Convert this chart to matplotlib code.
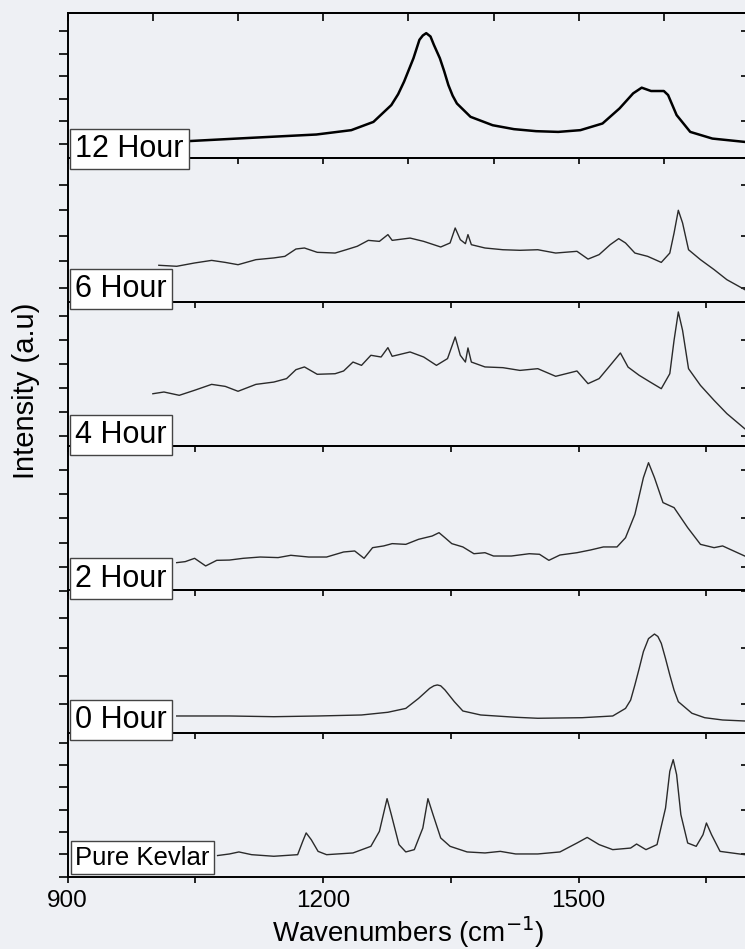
"""Stacked Raman spectra of Kevlar after different exposure times."""
import numpy as np
import matplotlib.pyplot as plt
from matplotlib.ticker import MultipleLocator

plt.rcParams["font.family"] = ["Liberation Sans", "DejaVu Sans"]

# ---- spectra: wavenumber [cm-1], intensity scaled to each panel (0..1)
wn_12h = [1037, 1115, 1192, 1233, 1259, 1280, 1288, 1295, 1306, 1313, 1317, 1321, 1326,
          1330, 1337, 1342, 1347, 1352, 1357, 1365, 1373, 1399, 1424, 1450, 1476, 1502,
          1528, 1548, 1564, 1574, 1585, 1600, 1605, 1615, 1631, 1657, 1695]
int_12h = [0.115, 0.139, 0.162, 0.192, 0.249, 0.365, 0.44, 0.527, 0.688, 0.815, 0.845,
           0.861, 0.838, 0.78, 0.688, 0.60, 0.503, 0.43, 0.376, 0.33, 0.284, 0.226, 0.199,
           0.185, 0.180, 0.192, 0.238, 0.342, 0.446, 0.485, 0.462, 0.462, 0.434, 0.296,
           0.180, 0.134, 0.111]

wn_6h = [1007, 1028, 1049, 1069, 1085, 1100, 1121, 1142, 1155, 1168, 1178, 1193, 1214,
         1227, 1240, 1253, 1266, 1276, 1281, 1302, 1318, 1338, 1349, 1355, 1361, 1367,
         1370, 1374, 1390, 1411, 1431, 1452, 1473, 1498, 1511, 1524, 1537, 1547, 1555,
         1566, 1581, 1597, 1607, 1612, 1617, 1622, 1629, 1643, 1659, 1674, 1695]
int_6h = [0.255, 0.248, 0.271, 0.289, 0.275, 0.259, 0.294, 0.306, 0.317, 0.368, 0.375,
          0.345, 0.340, 0.363, 0.387, 0.428, 0.421, 0.468, 0.428, 0.444, 0.421, 0.382,
          0.410, 0.514, 0.433, 0.405, 0.468, 0.398, 0.375, 0.363, 0.359, 0.363, 0.340,
          0.352, 0.298, 0.329, 0.398, 0.440, 0.410, 0.340, 0.317, 0.275, 0.340, 0.479,
          0.637, 0.549, 0.363, 0.294, 0.225, 0.155, 0.086]

wn_4h = [1000, 1013, 1031, 1049, 1069, 1085, 1100, 1121, 1142, 1157, 1168, 1178, 1193,
         1214, 1224, 1235, 1245, 1256, 1268, 1276, 1281, 1302, 1318, 1333, 1346, 1355,
         1361, 1367, 1370, 1374, 1390, 1411, 1431, 1452, 1473, 1498, 1511, 1524, 1537,
         1549, 1558, 1571, 1584, 1597, 1607, 1612, 1617, 1622, 1629, 1643, 1659, 1674,
         1695]
int_4h = [0.363, 0.375, 0.352, 0.387, 0.428, 0.414, 0.380, 0.428, 0.444, 0.468, 0.530,
          0.549, 0.498, 0.502, 0.521, 0.583, 0.560, 0.630, 0.618, 0.683, 0.623, 0.653,
          0.618, 0.560, 0.607, 0.757, 0.630, 0.583, 0.681, 0.583, 0.549, 0.544, 0.525,
          0.537, 0.484, 0.521, 0.433, 0.468, 0.560, 0.646, 0.548, 0.491, 0.444, 0.398,
          0.502, 0.734, 0.931, 0.803, 0.537, 0.421, 0.317, 0.225, 0.120]

wn_2h = [1028, 1038, 1049, 1062, 1075, 1090, 1106, 1126, 1147, 1162, 1183, 1204, 1224,
         1237, 1248, 1258, 1271, 1281, 1297, 1312, 1328, 1336, 1343, 1351, 1364, 1377,
         1390, 1400, 1421, 1442, 1454, 1465, 1478, 1498, 1514, 1529, 1545, 1555, 1566,
         1576, 1582, 1589, 1599, 1612, 1628, 1643, 1659, 1669, 1682, 1695]
int_2h = [0.190, 0.197, 0.220, 0.167, 0.206, 0.208, 0.220, 0.229, 0.225, 0.241, 0.229,
          0.229, 0.264, 0.271, 0.220, 0.294, 0.306, 0.322, 0.317, 0.352, 0.375, 0.398,
          0.363, 0.322, 0.299, 0.252, 0.259, 0.236, 0.236, 0.252, 0.248, 0.206, 0.243,
          0.259, 0.278, 0.299, 0.299, 0.363, 0.525, 0.780, 0.884, 0.780, 0.607, 0.572,
          0.433, 0.317, 0.294, 0.306, 0.271, 0.236]

wn_0h = [1028, 1090, 1142, 1194, 1245, 1276, 1297, 1312, 1325, 1330, 1334, 1338, 1343,
         1354, 1364, 1385, 1426, 1452, 1504, 1540, 1555, 1561, 1566, 1571, 1576, 1582,
         1589, 1593, 1597, 1602, 1607, 1612, 1617, 1633, 1648, 1669, 1695]
int_0h = [0.119, 0.119, 0.114, 0.119, 0.126, 0.145, 0.172, 0.242, 0.312, 0.330, 0.336,
          0.330, 0.301, 0.219, 0.154, 0.126, 0.110, 0.103, 0.107, 0.119, 0.172, 0.23,
          0.336, 0.45, 0.569, 0.66, 0.692, 0.675, 0.627, 0.52, 0.406, 0.30, 0.219, 0.138,
          0.107, 0.091, 0.084]

wn_kevlar = [1076, 1090, 1101, 1116, 1142, 1170, 1176, 1180, 1186, 1194, 1204, 1235,
             1256, 1266, 1275, 1280, 1289, 1297, 1307, 1317, 1323, 1329, 1338, 1349,
             1369, 1390, 1408, 1426, 1452, 1478, 1498, 1510, 1524, 1540, 1561, 1568,
             1579, 1592, 1602, 1607, 1611, 1615, 1620, 1628, 1638, 1646, 1650, 1656,
             1666, 1695]
int_kevlar = [0.149, 0.160, 0.174, 0.155, 0.144, 0.155, 0.248, 0.306, 0.259, 0.178,
              0.155, 0.167, 0.213, 0.317, 0.544, 0.433, 0.225, 0.174, 0.190, 0.340,
              0.544, 0.433, 0.271, 0.213, 0.174, 0.167, 0.178, 0.160, 0.160, 0.174,
              0.236, 0.275, 0.225, 0.190, 0.201, 0.229, 0.190, 0.225, 0.479, 0.734,
              0.815, 0.711, 0.433, 0.236, 0.213, 0.294, 0.375, 0.294, 0.178, 0.155]

wavenumbers = [wn_12h, wn_6h, wn_4h, wn_2h, wn_0h, wn_kevlar]
intensities = [int_12h, int_6h, int_4h, int_2h, int_0h, int_kevlar]
labels = ["12 Hour", "6 Hour", "4 Hour", "2 Hour", "0 Hour", "Pure Kevlar"]
label_sizes = [22, 22, 22, 22, 22, 18.5]
label_baselines = [0.007, 0.035, 0.019, 0.023, 0.033, 0.085]

# y tick positions of each panel (left side: all, right side: every other one)
yticks_left = [[0.097, 0.253, 0.407, 0.563, 0.719, 0.877],
               [0.097, 0.283, 0.461, 0.637, 0.815],
               [0.067, 0.236, 0.405, 0.571, 0.734, 0.901],
               [0.160, 0.329, 0.498, 0.665, 0.831],
               [0.201, 0.401, 0.596, 0.802, 0.990],
               [0.0, 0.160, 0.313, 0.467, 0.623, 0.780, 0.931]]
yticks_right = [[0.253, 0.563, 0.877],
                [0.097, 0.461, 0.815],
                [0.067, 0.405, 0.734],
                [0.160, 0.498, 0.831],
                [0.201, 0.596, 0.990],
                [0.160, 0.467, 0.780]]

# ---- figure layout (pixel positions of the panels in a 745x949 picture)
W, H = 745, 949
bg = "#eef0f4"
fig = plt.figure(figsize=(W / 100, H / 100), dpi=100, facecolor=bg)
left_px, right_px = 67.7, 749
edges_px = [13, 158, 302, 446, 590, 733, 877]

axes = []
for i in range(6):
    top, bot = edges_px[i], edges_px[i + 1]
    ax = fig.add_axes([left_px / W, 1 - bot / H, (right_px - left_px) / W, (bot - top) / H])
    ax.set_facecolor("none")
    axes.append(ax)

for i, ax in enumerate(axes):
    if i == 0:
        ax.plot(wavenumbers[i], intensities[i], color="black", lw=1.8)
    else:
        ax.plot(wavenumbers[i], intensities[i], color="#2a2a2a", lw=1.0)
    ax.set_xlim(900, 1700)
    ax.set_ylim(0, 1)

    for s in ax.spines.values():
        s.set_linewidth(1.4)

    # x ticks
    if i == 0:
        ax.xaxis.set_major_locator(MultipleLocator(100))
        top_ax = ax.secondary_xaxis("top")
        top_ax.xaxis.set_major_locator(MultipleLocator(100))
        top_ax.tick_params(direction="in", length=6, width=1.2, labeltop=False)
        top_ax.spines["top"].set_linewidth(1.4)
    else:
        ax.xaxis.set_major_locator(MultipleLocator(300))
        ax.xaxis.set_minor_locator(MultipleLocator(150))
    ax.tick_params(axis="x", which="both", direction="out", length=4.5, width=1.2,
                   labelsize=17.5, pad=5)
    if i < 5:
        ax.tick_params(axis="x", which="both", labelbottom=False)

    # y ticks: left outward, right inward
    ax.set_yticks(yticks_left[i])
    ax.tick_params(axis="y", direction="out", length=6.5, width=1.2, labelleft=False)
    right_ax = ax.secondary_yaxis("right")
    right_ax.set_yticks(yticks_right[i])
    right_ax.tick_params(direction="in", length=6, width=1.2, labelright=False)

    # sample label in a white box, drawn on top of all panels
    fig.text(0.0114, label_baselines[i], labels[i], transform=ax.transAxes,
             fontsize=label_sizes[i], ha="left", va="baseline", zorder=5,
             bbox=dict(boxstyle="square,pad=0.17", facecolor="white",
                       edgecolor="#444444", linewidth=1.0))

fig.text(408 / W, 1 - 942 / H, "Wavenumbers (cm$^{-1}$)", fontsize=20,
         ha="center", va="baseline")
fig.text(26.5 / W, 1 - 391 / H, "Intensity (a.u)", fontsize=21, rotation=90,
         ha="center", va="center")

plt.savefig("out.png", dpi=100, facecolor=bg)
